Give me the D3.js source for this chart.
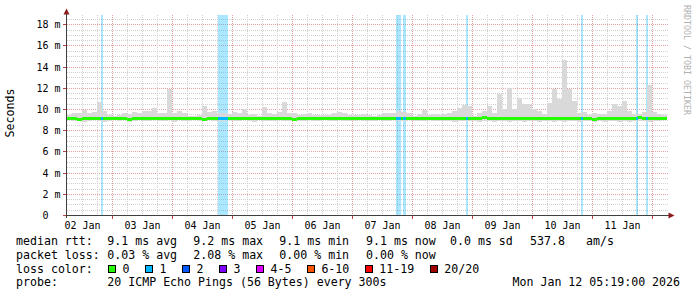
<!DOCTYPE html>
<html><head><meta charset="utf-8">
<script src="https://cdn.jsdelivr.net/npm/d3@7"></script>
<style>
body{margin:0;background:#fff}
svg{display:block}
text{font-family:"DejaVu Sans Mono",monospace;fill:#000}
</style>
</head><body>
<svg id="c" width="697" height="297"></svg>
<script>
// ---------------- data ----------------
const viewStart = "2026-01-02T05:36:00Z";
const viewEnd   = "2026-01-12T05:36:00Z";
const dataStart = "2026-01-02T05:48:00Z";
const stepHours = 2;

// RTT in milliseconds, one value per 2-hour step
const smokeMax = [
 9.45,9.67,9.6,9.9,9.6,9.7,10.7,9.85,9.45,9.36,
 9.45,9.6,9.55,9.75,9.67,9.85,9.77,10.05,9.6,9.6,
 11.9,9.6,9.85,9.6,9.36,9.36,9.45,10.3,9.7,9.77,
 9.6,9.6,9.55,9.74,9.6,9.98,9.45,9.51,9.36,10.2,
 9.67,9.51,9.74,10.7,9.67,9.6,9.48,9.51,9.6,9.42,
 9.42,9.45,9.48,9.67,9.74,9.6,9.42,9.48,9.42,9.51,
 9.45,9.36,9.45,9.67,9.6,9.67,9.77,9.74,9.6,9.36,
 9.5,9.86,9.45,9.5,9.42,9.5,9.6,9.77,10.05,10.4,
 10.24,9.36,9.6,9.77,10.24,9.6,11.46,9.98,11.94,10.0,
 11.05,10.5,10.5,10.0,9.8,9.5,10.6,11.9,10.9,14.65,
 11.9,10.8,9.6,9.7,9.45,9.6,9.5,9.5,9.8,10.5,
 10.3,10.75,9.8,9.5,9.5,9.7,12.3,9.7,9.5,9.45
];
const smokeMin = [
 8.95,8.85,8.95,8.8,8.9,8.95,8.85,8.8,8.9,8.95,
 8.85,8.95,8.8,8.9,8.95,8.9,8.85,8.95,8.9,8.85,
 8.95,8.8,8.95,8.9,8.85,8.95,8.9,8.85,8.95,8.9,
 8.85,8.9,8.95,8.85,8.9,8.95,8.85,8.8,8.95,8.9,
 8.9,8.85,8.95,8.9,8.85,8.95,8.9,8.85,8.95,8.9,
 8.85,8.95,8.9,8.85,8.95,8.9,8.85,8.9,8.95,8.9,
 8.9,8.85,8.95,8.9,8.85,8.95,8.9,8.85,8.95,8.9,
 8.85,8.9,8.95,8.85,8.9,8.85,8.9,8.8,8.85,8.9,
 8.9,8.85,8.8,8.9,8.85,8.8,8.9,8.85,8.8,8.85,
 8.9,8.8,8.85,8.9,8.8,8.85,8.9,8.8,8.85,8.8,
 8.9,8.85,8.8,8.9,8.85,8.8,8.85,8.8,8.9,8.85,
 8.8,8.85,8.8,8.85,8.9,8.85,8.8,8.85,8.9,8.95
];
const median = [
 9.12,9.12,9.03,9.12,9.12,9.12,9.12,9.12,9.12,9.12,
 9.12,9.12,9.03,9.12,9.12,9.12,9.12,9.12,9.12,9.12,
 9.12,9.12,9.12,9.12,9.12,9.12,9.12,9.03,9.12,9.12,
 9.12,9.12,9.12,9.12,9.12,9.12,9.12,9.12,9.12,9.12,
 9.12,9.12,9.12,9.12,9.12,9.03,9.12,9.12,9.12,9.12,
 9.12,9.12,9.12,9.12,9.12,9.12,9.12,9.12,9.12,9.12,
 9.12,9.12,9.12,9.12,9.12,9.12,9.12,9.12,9.12,9.12,
 9.12,9.12,9.12,9.12,9.12,9.12,9.12,9.12,9.12,9.12,
 9.12,9.12,9.12,9.2,9.12,9.12,9.12,9.12,9.12,9.12,
 9.12,9.12,9.12,9.12,9.12,9.12,9.12,9.12,9.12,9.12,
 9.12,9.12,9.12,9.12,9.12,9.05,9.12,9.12,9.12,9.12,
 9.12,9.12,9.12,9.12,9.2,9.12,9.12,9.12,9.12,9.12
];
// loss events: hours after dataStart, duration in hours, lost pings (of 20)
const lossStart = [13.6, 60.4, 131.6, 134.2, 159.6, 205.6, 227.6, 231.6];
const lossHours = [0.8, 4.0, 2.0, 1.2, 0.8, 0.8, 0.8, 0.8];
const lossCount = [1, 1, 1, 1, 1, 1, 1, 1];

const yTicks = [0, 2, 4, 6, 8, 10, 12, 14, 16, 18];
const yMax = 18.87;
const dayLabels = ["02 Jan","03 Jan","04 Jan","05 Jan","06 Jan","07 Jan","08 Jan","09 Jan","10 Jan","11 Jan"];

const lossLabels = ["0","1","2","3","4-5","6-10","11-19","20/20"];
const lossColors = ["#26ff00","#00b8ff","#0059ff","#7e00ff","#dd00ff","#ff5500","#ff0000","#a10000"];

const rttStats  = ["9.1 ms avg","9.2 ms max","9.1 ms min","9.1 ms now","0.0 ms sd","537.8","am/s"];
const lossStats = ["0.03 % avg","2.08 % max","0.00 % min","0.00 % now"];
const probeText = "20 ICMP Echo Pings (56 Bytes) every 300s";
const stampText = "Mon Jan 12 05:19:00 2026";

// ---------------- drawing ----------------
const svg = d3.select("#c");
svg.append("rect").attr("width",697).attr("height",297).attr("fill","#fff");

const x = d3.scaleUtc().domain([new Date(viewStart), new Date(viewEnd)]).range([66.5, 666.5]);
const y = d3.scaleLinear().domain([0, yMax]).range([215, 15]);
const t0 = new Date(dataStart).getTime();
const H = 3600e3;
const binStart = i => new Date(t0 + i*stepHours*H);
const binEnd = i => new Date(t0 + (i+1)*stepHours*H);
const px = v => Math.round(y(v)) + 0.5;

const gGrid = svg.append("g").attr("shape-rendering","crispEdges");
// horizontal grid
d3.range(0, yMax, 0.5).forEach(v => {
  const major = yTicks.includes(v);
  if (v === 0) return;
  gGrid.append("line").attr("x1",67).attr("x2",668).attr("y1",px(v)).attr("y2",px(v))
    .attr("stroke", major ? "#e8a0a0" : "#cfcfcf").attr("stroke-dasharray","1,1");
});
// vertical grid
const days = d3.utcDay.range(new Date(viewStart), new Date(viewEnd));
d3.utcHour.every(6).range(new Date(viewStart), new Date(viewEnd)).forEach(t => {
  const major = t.getUTCHours() === 0;
  const xx = Math.floor(x(t)) + 0.5;
  if (xx < 68) return;
  gGrid.append("line").attr("x1",xx).attr("x2",xx).attr("y1",15).attr("y2",215)
    .attr("stroke", major ? "#e8a0a0" : "#cfcfcf").attr("stroke-dasharray","1,1");
});

// loss background bands
const gLoss = svg.append("g").attr("shape-rendering","crispEdges");
lossStart.forEach((s,i) => {
  const a = new Date(t0 + s*H), b = new Date(t0 + (s+lossHours[i])*H);
  gLoss.append("rect").attr("x",x(a)).attr("width",x(b)-x(a)).attr("y",y(yMax)).attr("height",y(0)-y(yMax))
    .attr("fill",lossColors[Math.min(lossCount[i],1)]).attr("fill-opacity",0.33);
});

// smoke
const gSmoke = svg.append("g").attr("shape-rendering","crispEdges");
smokeMax.forEach((mx,i) => {
  const a = x(binStart(i)), b = Math.min(x(binEnd(i)), 667);
  gSmoke.append("rect").attr("x",a).attr("width",b-a)
    .attr("y",y(mx)).attr("height",y(smokeMin[i])-y(mx)).attr("fill","#d9d9d9");
});

// median
const gMed = svg.append("g").attr("shape-rendering","crispEdges");
median.forEach((m,i) => {
  const a = x(binStart(i)), b = Math.min(x(binEnd(i)), 667);
  gMed.append("rect").attr("x",a).attr("width",b-a)
    .attr("y",Math.round(y(m))-1).attr("height",3).attr("fill",lossColors[0]);
});
lossStart.forEach((s,i) => {
  const a = new Date(t0 + s*H), b = new Date(t0 + (s+lossHours[i])*H);
  const bi = Math.floor(s/stepHours);
  gMed.append("rect").attr("x",x(a)).attr("width",x(b)-x(a))
    .attr("y",Math.round(y(median[bi]))-1).attr("height",3).attr("fill",lossColors[lossCount[i]]);
});

// axes
const gAx = svg.append("g").attr("shape-rendering","crispEdges");
gAx.append("line").attr("x1",66.5).attr("x2",66.5).attr("y1",12).attr("y2",218).attr("stroke","#404040");
gAx.append("line").attr("x1",64).attr("x2",670).attr("y1",215.5).attr("y2",215.5).attr("stroke","#404040");
yTicks.forEach(v => {
  gAx.append("line").attr("x1",63).attr("x2",66).attr("y1",px(v)).attr("y2",px(v)).attr("stroke","#c04040");
});
days.forEach(t => {
  const xx = Math.floor(x(t)) + 0.5;
  if (xx < 68) return;
  gAx.append("line").attr("x1",xx).attr("x2",xx).attr("y1",216).attr("y2",219).attr("stroke","#c04040");
});
svg.append("path").attr("d","M66.5,8.5 L63.5,14.5 L69.5,14.5 Z").attr("fill","#8c1c1c");
svg.append("path").attr("d","M674.5,215.5 L668.5,212.5 L668.5,218.5 Z").attr("fill","#8c1c1c");

// y tick labels
const cw = 0.602*10;
yTicks.forEach(v => {
  svg.append("text").attr("x", v === 0 ? 60.5 - 2*cw : 60.5).attr("y", px(v)+3.6)
    .attr("text-anchor","end").attr("font-size",10).text(v === 0 ? "0" : v + " m");
});
// x tick labels at noon
days.forEach((t,i) => {
  const noon = new Date(t.getTime() + 12*H);
  if (i < dayLabels.length) {}
});
d3.utcDay.range(new Date("2026-01-02T00:00:00Z"), new Date(viewEnd)).forEach((t,i) => {
  const noon = new Date(t.getTime() + 12*H);
  if (noon < new Date(viewStart) || noon > new Date(viewEnd) || i >= dayLabels.length) return;
  svg.append("text").attr("x", x(noon)).attr("y",228.5).attr("text-anchor","middle")
    .attr("font-size",10).text(dayLabels[i]);
});

// y axis title
svg.append("text").attr("transform","translate(14.3,113) rotate(-90)").attr("text-anchor","middle")
  .attr("font-size",11.6).text("Seconds");
// watermark
svg.append("text").attr("transform","translate(684.3,5) rotate(90)").attr("text-anchor","start")
  .attr("font-size",8.3).style("fill","#b0b0b0").text("RRDTOOL / TOBI OETIKER");

// legend
const fs = 11.6;
const L = (txt, xx, yy) => svg.append("text").attr("x",xx).attr("y",yy).attr("font-size",fs).text(txt);
const rows = [245.3, 259, 272.7, 286.4];
L("median rtt:", 16, rows[0]);
const rttX = [107.3, 193.3, 279.3, 366, 450, 530, 586];
rttStats.forEach((s,i) => L(s, rttX[i], rows[0]));
L("packet loss:", 16, rows[1]);
lossStats.forEach((s,i) => L(s, rttX[i], rows[1]));
L("loss color:", 16, rows[2]);
let cur = 108;
lossLabels.forEach((lab,i) => {
  svg.append("rect").attr("x",cur+0.5).attr("y",265.5).attr("width",7).attr("height",7)
    .attr("fill",lossColors[i]).attr("stroke","#000").attr("shape-rendering","crispEdges");
  const t = L(lab, cur+14.5, rows[2]);
  cur = cur + 14.5 + t.node().getComputedTextLength() + 15.5;
});
L("probe:", 16, rows[3]);
L(probeText, 107.3, rows[3]);
L(stampText, 512.5, rows[3]);
</script>
</body></html>
